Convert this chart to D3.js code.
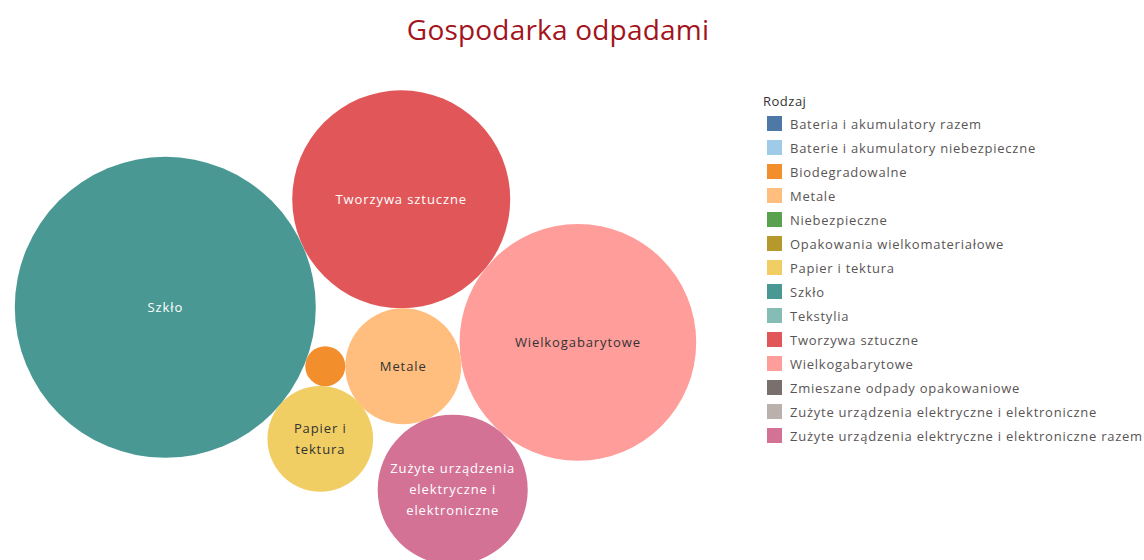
<!DOCTYPE html>
<html lang="pl">
<head>
   <meta charset="UTF-8">
   <title>Gospodarka odpadami</title>
   <script src="https://cdn.jsdelivr.net/npm/d3@7"></script>
   <style>
      html, body {
         margin: 0;
         padding: 0;
         background: #fff;
         overflow: hidden;
      }
      text {
         font-family: 'Open Sans', sans-serif;
      }
      .title {
         font-size: 28px;
         fill: #a3141c;
         letter-spacing: 0.2px;
      }
      .legend-title {
         font-size: 13px;
         fill: #333;
         letter-spacing: 0.5px;
      }
      .legend-label {
         font-size: 13px;
         fill: #5a5555;
         letter-spacing: 0.75px;
      }
      .bubble-label {
         font-size: 13px;
         letter-spacing: 0.9px;
      }
   </style>
</head>
<body>
   <svg id="chart" width="1144" height="560"></svg>
   <script>
      // legend categories and their colours
      const categories = [
         'Bateria i akumulatory razem',
         'Baterie i akumulatory niebezpieczne',
         'Biodegradowalne',
         'Metale',
         'Niebezpieczne',
         'Opakowania wielkomateriałowe',
         'Papier i tektura',
         'Szkło',
         'Tekstylia',
         'Tworzywa sztuczne',
         'Wielkogabarytowe',
         'Zmieszane odpady opakowaniowe',
         'Zużyte urządzenia elektryczne i elektroniczne',
         'Zużyte urządzenia elektryczne i elektroniczne razem'
      ]
      const categoryColors = [
         '#4e79a7', '#a0cbe8', '#f28e2b', '#ffbe7d', '#59a14f', '#b6992d', '#f1ce63',
         '#499894', '#86bcb6', '#e15759', '#ff9d9a', '#79706e', '#bab0ac', '#d37295'
      ]

      // bubbles shown (estimated from their areas)
      const bubbleNames = [
         'Tworzywa sztuczne',
         'Wielkogabarytowe',
         'Metale',
         'Zużyte urządzenia elektryczne i elektroniczne razem',
         'Biodegradowalne',
         'Szkło',
         'Papier i tektura'
      ]
      const bubbleValues = [1188, 1400, 336, 563, 40, 2265, 279]
      const bubbleLabels = [
         'Tworzywa sztuczne',
         'Wielkogabarytowe',
         'Metale',
         'Zużyte urządzenia elektryczne i elektroniczne',
         'Biodegradowalne',
         'Szkło',
         'Papier i tektura'
      ]

      const WIDTH = 1144
      const HEIGHT = 560
      const packCenter = { x: 355.5, y: 327.5 }

      const svg = d3.select('#chart')

      // title
      svg.append('text')
         .attr('class', 'title')
         .attr('x', 558)
         .attr('y', 40)
         .attr('text-anchor', 'middle')
         .text('Gospodarka odpadami')

      // scales
      const color = d3.scaleOrdinal()
         .domain(categories)
         .range(categoryColors)

      const radius = d3.scaleSqrt()
         .domain([0, d3.max(bubbleValues)])
         .range([0, 150.5])

      const value = name => bubbleValues[bubbleNames.indexOf(name)]

      // packing: each bubble sits tangent to ones already placed
      const nodes = {}
      function node(name, p) {
         nodes[name] = { name, x: p.x, y: p.y, r: radius(value(name)) }
      }
      function beside(a, name, deg) {
         const r = radius(value(name))
         const t = deg * Math.PI / 180
         return { x: a.x + (a.r + r) * Math.cos(t), y: a.y + (a.r + r) * Math.sin(t) }
      }
      function between(a, b, name) {
         const r = radius(value(name))
         const dx = b.x - a.x, dy = b.y - a.y
         const d = Math.hypot(dx, dy)
         const da = a.r + r, db = b.r + r
         const along = (da * da - db * db + d * d) / (2 * d)
         const h = Math.sqrt(Math.max(0, da * da - along * along))
         const ux = dx / d, uy = dy / d
         return { x: a.x + along * ux - h * uy, y: a.y + along * uy + h * ux }
      }

      const [T, W, M, Z, B, S, P] = bubbleNames
      node(T, { x: 0, y: 0 })
      node(W, beside(nodes[T], W, 39))
      node(M, between(nodes[T], nodes[W], M))
      node(Z, between(nodes[M], nodes[W], Z))
      node(B, beside(nodes[M], B, 180))
      node(S, between(nodes[T], nodes[B], S))
      node(P, between(nodes[S], nodes[B], P))

      const packed = bubbleNames.map(n => nodes[n])
      const x0 = d3.min(packed, d => d.x - d.r), x1 = d3.max(packed, d => d.x + d.r)
      const y0 = d3.min(packed, d => d.y - d.r), y1 = d3.max(packed, d => d.y + d.r)
      const shiftX = packCenter.x - (x0 + x1) / 2
      const shiftY = packCenter.y - (y0 + y1) / 2

      const bubbles = svg.append('g')
         .attr('transform', `translate(${shiftX}, ${shiftY})`)

      const groups = bubbles.selectAll('g')
         .data(packed)
         .enter()
         .append('g')
         .attr('transform', d => `translate(${d.x}, ${d.y})`)

      groups.append('circle')
         .attr('r', d => d.r)
         .attr('fill', d => color(d.name))

      // labels, wrapped to fit inside the circle
      const LINE = 20.8
      groups.each(function (d) {
         const g = d3.select(this)
         const label = bubbleLabels[bubbleNames.indexOf(d.name)]
         const maxW = d.r * 2 * 0.85
         const light = d3.lab(color(d.name)).l < 68
         const text = g.append('text')
            .attr('class', 'bubble-label')
            .attr('text-anchor', 'middle')
            .attr('fill', light ? '#fff' : '#333')

         const probe = text.append('tspan')
         const words = label.split(' ')
         const lines = []
         let line = []
         for (const w of words) {
            probe.text(w)
            if (probe.node().getComputedTextLength() > maxW) { text.remove(); return }
            line.push(w)
            probe.text(line.join(' '))
            if (probe.node().getComputedTextLength() > maxW && line.length > 1) {
               line.pop()
               lines.push(line.join(' '))
               line = [w]
            }
         }
         lines.push(line.join(' '))
         probe.remove()

         const top = -(lines.length - 1) * LINE / 2
         lines.forEach((l, i) => {
            text.append('tspan')
               .attr('x', 0)
               .attr('y', top + i * LINE)
               .attr('dy', '0.35em')
               .text(l)
         })
      })

      // legend
      const legend = svg.append('g')
         .attr('transform', 'translate(763, 0)')

      legend.append('text')
         .attr('class', 'legend-title')
         .attr('x', 0)
         .attr('y', 106)
         .text('Rodzaj')

      const rowY = d3.scalePoint()
         .domain(categories)
         .range([124, 436])

      const rows = legend.selectAll('.legend-row')
         .data(categories)
         .enter()
         .append('g')
         .attr('class', 'legend-row')
         .attr('transform', d => `translate(0, ${rowY(d)})`)

      rows.append('rect')
         .attr('x', 4)
         .attr('y', -8)
         .attr('width', 15)
         .attr('height', 15)
         .attr('fill', d => color(d))

      rows.append('text')
         .attr('class', 'legend-label')
         .attr('x', 27)
         .attr('y', 0)
         .attr('dy', '0.35em')
         .text(d => d)
   </script>
</body>
</html>
